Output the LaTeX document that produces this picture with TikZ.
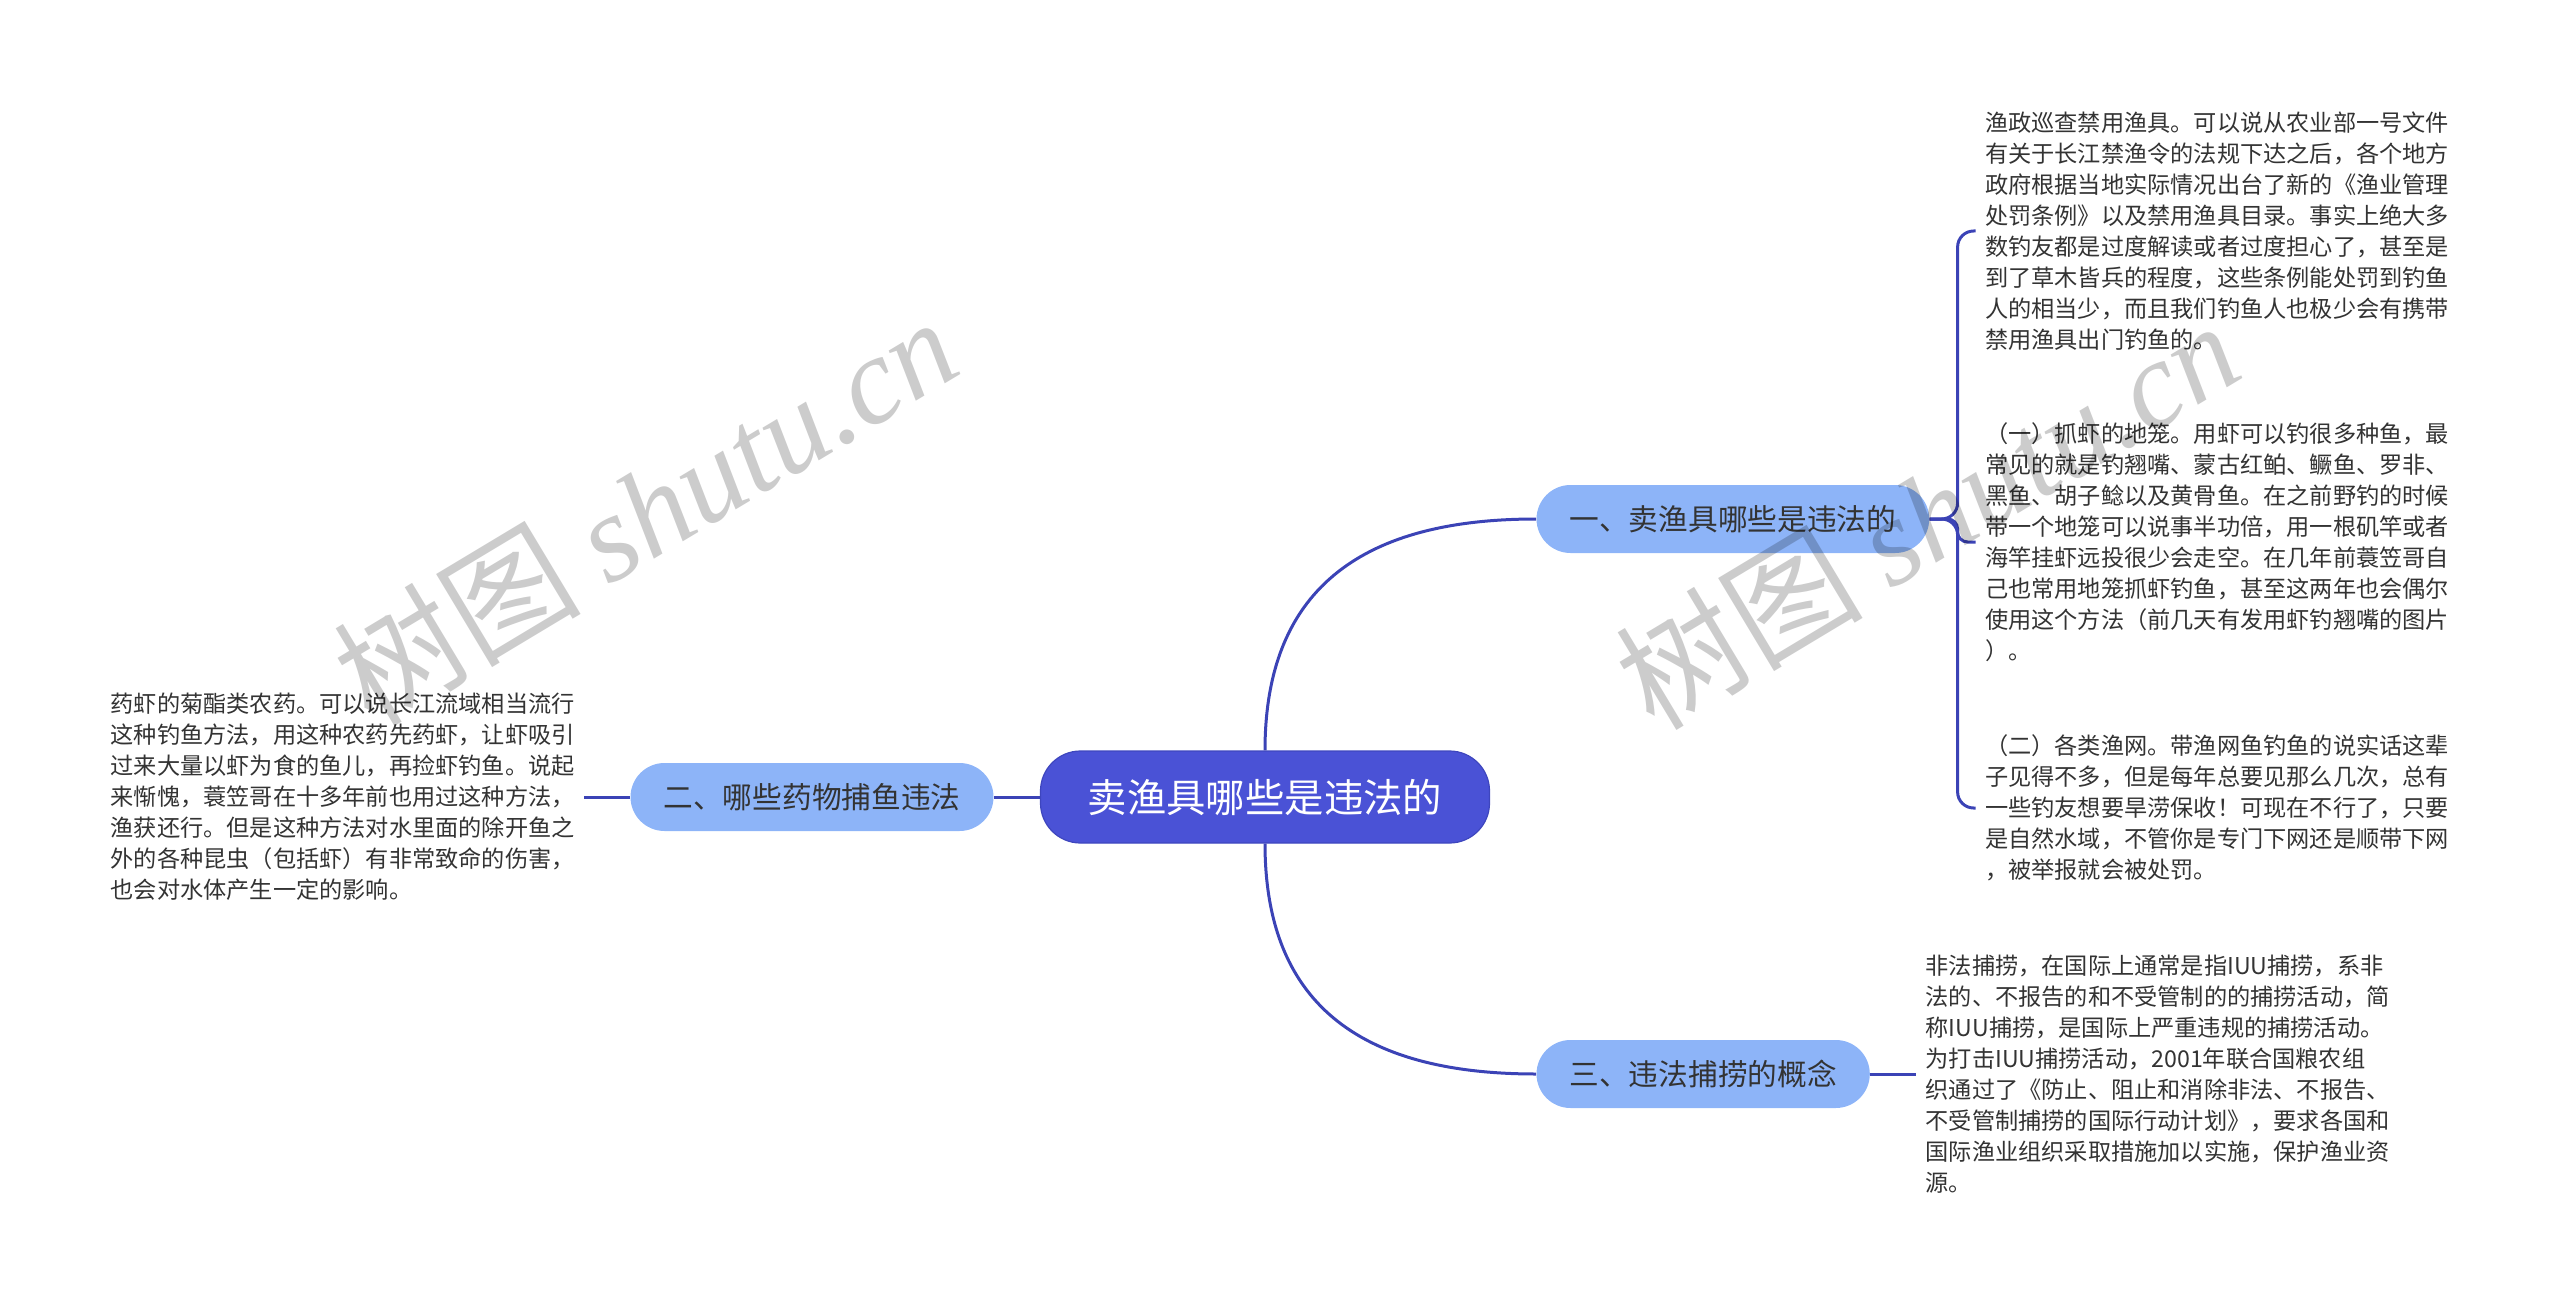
\documentclass[tikz,border=0pt]{standalone}
\usepackage{fontspec}
\setmainfont{Noto Sans CJK SC}
\newfontfamily\wmlatin{Liberation Serif}
\usetikzlibrary{positioning, calc}

\definecolor{rootblue}{RGB}{74,82,214}
\definecolor{rootedge}{RGB}{62,70,190}
\definecolor{subblue}{RGB}{141,180,248}
\definecolor{linkblue}{RGB}{59,67,182}
\definecolor{txtgray}{RGB}{51,51,51}

\begin{document}
\begin{tikzpicture}[
    x=0.5pt, y=-0.5pt,
    node distance=23pt,
    rootbox/.style={rectangle, fill=rootblue, draw=rootedge, line width=0.6pt, rounded corners=20pt, minimum height=46pt, inner xsep=23.6pt, text=white, font=\fontsize{19.7pt}{24pt}\selectfont},
    subbox/.style={rectangle, fill=subblue, rounded corners=17pt, minimum height=34pt, inner xsep=16.5pt, text=txtgray, font=\fontsize{14.85pt}{18pt}\selectfont},
    leaftext/.style={align=left, inner xsep=4.5pt, inner ysep=0pt, text=txtgray, font=\fontsize{11.6pt}{15.5pt}\selectfont},
    link/.style={draw=linkblue, line width=1.5pt},
    watermark/.style={text=black, opacity=0.2, rotate=31, font=\fontsize{62pt}{62pt}\selectfont}
]

\useasboundingbox (0,0) rectangle (2560,1305);

% ========== RAIZ Y RAMAS ==========
\node[rootbox] (root) at (1265,797) {卖渔具哪些是违法的};

\node[subbox, right=23pt of root, yshift=139pt] (one) {一、卖渔具哪些是违法的};
\node[subbox, left=23pt of root] (two) {二、哪些药物捕鱼违法};
\node[subbox, right=23pt of root, yshift=-138.5pt] (three) {三、违法捕捞的概念};

% ========== TEXTOS ==========
\node[leaftext, right=23pt of one, yshift=144pt] (t1) {渔政巡查禁用渔具。可以说从农业部一号文件\\
有关于长江禁渔令的法规下达之后，各个地方\\
政府根据当地实际情况出台了新的《渔业管理\\
处罚条例》以及禁用渔具目录。事实上绝大多\\
数钓友都是过度解读或者过度担心了，甚至是\\
到了草木皆兵的程度，这些条例能处罚到钓鱼\\
人的相当少，而且我们钓鱼人也极少会有携带\\
禁用渔具出门钓鱼的。};

\node[leaftext, right=23pt of one, yshift=-11.5pt] (t2) {（一）抓虾的地笼。用虾可以钓很多种鱼，最\\
常见的就是钓翘嘴、蒙古红鲌、鳜鱼、罗非、\\
黑鱼、胡子鲶以及黄骨鱼。在之前野钓的时候\\
带一个地笼可以说事半功倍，用一根矶竿或者\\
海竿挂虾远投很少会走空。在几年前蓑笠哥自\\
己也常用地笼抓虾钓鱼，甚至这两年也会偶尔\\
使用这个方法（前几天有发用虾钓翘嘴的图片\\
）。};

\node[leaftext, right=23pt of one, yshift=-144.5pt] (t3) {（二）各类渔网。带渔网鱼钓鱼的说实话这辈\\
子见得不多，但是每年总要见那么几次，总有\\
一些钓友想要旱涝保收！可现在不行了，只要\\
是自然水域，不管你是专门下网还是顺带下网\\
，被举报就会被处罚。};

\node[leaftext, right=23pt of three] (t4) {非法捕捞，在国际上通常是指IUU捕捞，系非\\
法的、不报告的和不受管制的的捕捞活动，简\\
称IUU捕捞，是国际上严重违规的捕捞活动。\\
为打击IUU捕捞活动，2001年联合国粮农组\\
织通过了《防止、阻止和消除非法、不报告、\\
不受管制捕捞的国际行动计划》，要求各国和\\
国际渔业组织采取措施加以实施，保护渔业资\\
源。};

\node[leaftext, left=23pt of two] (t5) {药虾的菊酯类农药。可以说长江流域相当流行\\
这种钓鱼方法，用这种农药先药虾，让虾吸引\\
过来大量以虾为食的鱼儿，再捡虾钓鱼。说起\\
来惭愧，蓑笠哥在十多年前也用过这种方法，\\
渔获还行。但是这种方法对水里面的除开鱼之\\
外的各种昆虫（包括虾）有非常致命的伤害，\\
也会对水体产生一定的影响。};

% ========== CONEXIONES ==========
\draw[link] (root.north) to[out=90, in=180, looseness=1.2] (one.west);
\draw[link] (root.south) to[out=-90, in=180, looseness=1.2] (three.west);
\draw[link] (root.west) -- (two.east);
\draw[link] (two.west) -- (t5.east);
\draw[link] (three.east) -- (t4.west);

% Llave de la rama uno
\coordinate (fork) at ($(one.east)+(14pt,0)$);
\foreach \t/\r in {t1/8pt, t2/5pt, t3/8pt}
  \draw[link, rounded corners=\r] (one.east) -- (fork) |- (\t.west);

% Marcas de agua
\node[watermark] (wm1) at (645,510) {树图 {\wmlatin\itshape shutu.cn}};
\node[watermark] (wm2) at (1927,514) {树图 {\wmlatin\itshape shutu.cn}};

\end{tikzpicture}
\end{document}
